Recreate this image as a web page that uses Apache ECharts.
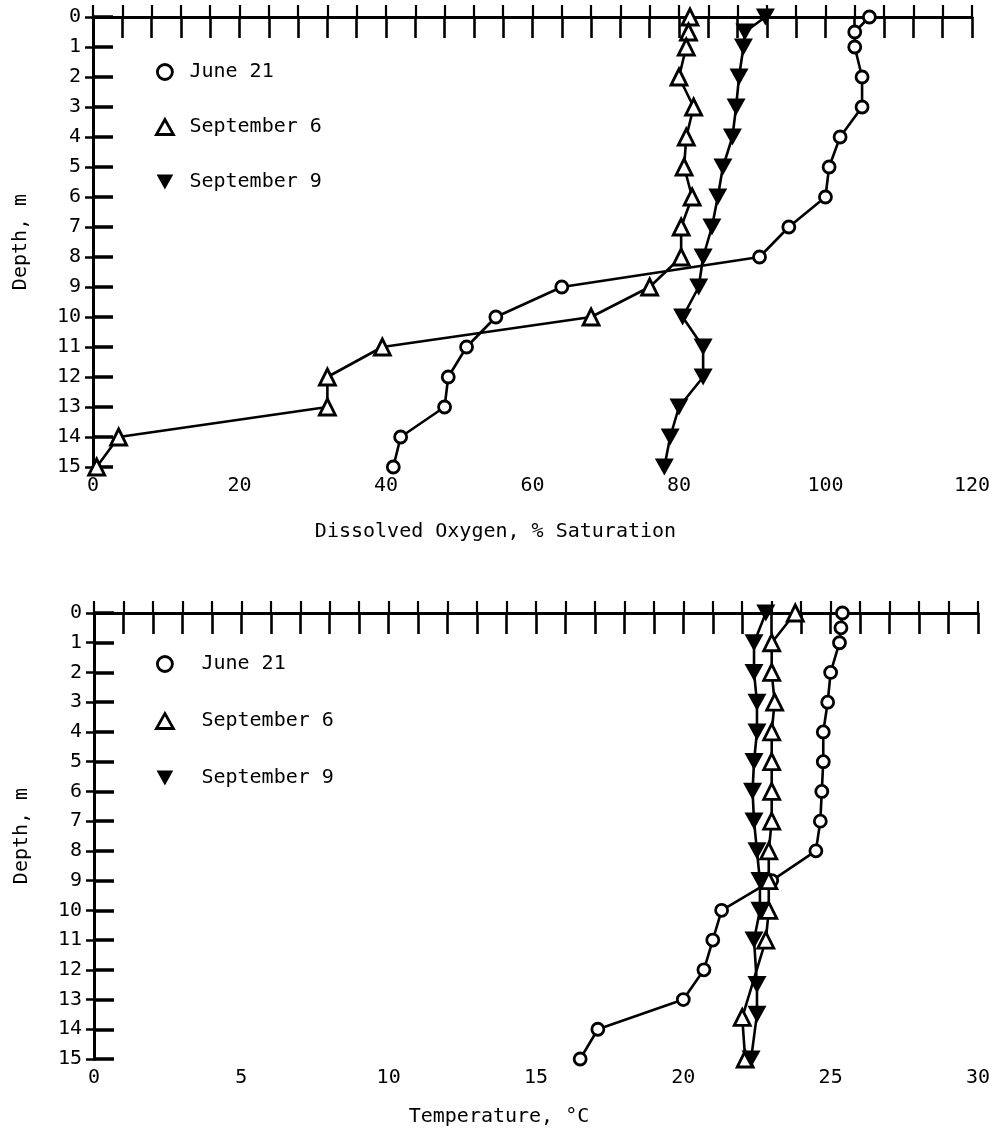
<!DOCTYPE html>
<html>
<head>
<meta charset="utf-8">
<script src="https://cdn.jsdelivr.net/npm/echarts@6/dist/echarts.min.js"></script>
<style>
  html, body { margin: 0; padding: 0; background: #fff; }
  #chart { width: 993px; height: 1132px; }
</style>
</head>
<body>
<div id="chart"></div>
<script>
// Depth profiles: dissolved oxygen (% saturation) and temperature (°C) vs depth (m)
const seriesNames = ['June 21', 'September 6', 'September 9'];

// Dissolved oxygen, % saturation
const doJuneDepth = [0, 0.5, 1, 2, 3, 4, 5, 6, 7, 8, 9, 10, 11, 12, 13, 14, 15];
const doJuneValue = [106, 104, 104, 105, 105, 102, 100.5, 100, 95, 91, 64, 55, 51, 48.5, 48, 42, 41];
const doSep6Depth = [0, 0.5, 1, 2, 3, 4, 5, 6, 7, 8, 9, 10, 11, 12, 13, 14, 15];
const doSep6Value = [81.5, 81.3, 81, 80, 82, 81, 80.7, 81.8, 80.3, 80.3, 76, 68, 39.5, 32, 32, 3.5, 0.5];
const doSep9Depth = [0, 0.5, 1, 2, 3, 4, 5, 6, 7, 8, 9, 10, 11, 12, 13, 14, 15];
const doSep9Value = [91.8, 89, 88.8, 88.2, 87.8, 87.3, 86, 85.3, 84.5, 83.3, 82.7, 80.5, 83.3, 83.3, 80, 78.8, 78];

// Temperature, °C
const tJuneDepth = [0, 0.5, 1, 2, 3, 4, 5, 6, 7, 8, 9, 10, 11, 12, 13, 14, 15];
const tJuneValue = [25.4, 25.35, 25.3, 25.0, 24.9, 24.75, 24.75, 24.7, 24.65, 24.5, 23.0, 21.3, 21.0, 20.7, 20.0, 17.1, 16.5];
const tSep6Depth = [0, 1, 2, 3, 4, 5, 6, 7, 8, 9, 10, 11, 13.6, 15];
const tSep6Value = [23.8, 23.0, 23.0, 23.1, 23.0, 23.0, 23.0, 23.0, 22.9, 22.9, 22.9, 22.8, 22.0, 22.1];
const tSep9Depth = [0, 1, 2, 3, 4, 5, 6, 7, 8, 9, 10, 11, 12.5, 13.5, 15];
const tSep9Value = [22.8, 22.4, 22.4, 22.5, 22.5, 22.4, 22.35, 22.4, 22.5, 22.6, 22.6, 22.4, 22.5, 22.5, 22.3];

const FONT = 'DejaVu Sans Mono';
const INV_TRI = 'path://M0,0L10,0L5,9Z';

const markerStyles = [
  { symbol: 'circle', symbolSize: 12, itemStyle: { color: '#fff', borderColor: '#000', borderWidth: 2.8 } },
  { symbol: 'triangle', symbolSize: 16, itemStyle: { color: '#fff', borderColor: '#000', borderWidth: 2.8 } },
  { symbol: INV_TRI, symbolSize: 19, itemStyle: { color: '#000', borderColor: '#000', borderWidth: 0 } }
];

function pairs(values, depths) {
  return depths.map((d, i) => [values[i], d]);
}

function makeSeries(name, idx, gridIdx, values, depths) {
  const m = markerStyles[idx];
  return {
    name: name,
    type: 'line',
    xAxisIndex: gridIdx * 2,
    yAxisIndex: gridIdx * 2,
    data: pairs(values, depths),
    symbol: m.symbol,
    symbolSize: m.symbolSize,
    symbolKeepAspect: true,
    showAllSymbol: true,
    clip: false,
    itemStyle: m.itemStyle,
    lineStyle: { color: '#000', width: 2.6 },
    emphasis: { disabled: true },
    z: 3 + idx
  };
}

function legendFor(top, textPad, gap) {
  return {
    orient: 'vertical',
    left: 150,
    top: top,
    itemWidth: 17,
    itemHeight: 15,
    itemGap: gap,
    selectedMode: false,
    textStyle: { fontFamily: FONT, fontSize: 20, color: '#000', padding: [0, 0, 0, textPad] },
    data: seriesNames.map((n, i) => ({
      name: n,
      icon: markerStyles[i].symbol,
      itemStyle: markerStyles[i].itemStyle
    }))
  };
}

function xAxes(gridIdx, max, interval, name, nameGap) {
  const line = { show: true, lineStyle: { color: '#000', width: 3 } };
  return [
    {
      type: 'value', gridIndex: gridIdx, position: 'bottom',
      min: 0, max: max, interval: interval,
      name: name, nameLocation: 'middle', nameGap: nameGap,
      nameTextStyle: { fontFamily: FONT, fontSize: 20, color: '#000', padding: [0, 74, 0, 0] },
      axisLine: line,
      axisTick: { show: true, inside: true, length: 12, lineStyle: { color: '#000', width: 2.2 } },
      minorTick: { show: true, splitNumber: 5, length: 12, lineStyle: { color: '#000', width: 2.2 } },
      axisLabel: { fontFamily: FONT, fontSize: 20, color: '#000', margin: 9 },
      splitLine: { show: false }
    },
    {
      type: 'value', gridIndex: gridIdx, position: 'top',
      min: 0, max: max, interval: interval,
      axisLine: line,
      axisTick: { show: true, inside: true, length: 21, lineStyle: { color: '#000', width: 2.6 } },
      minorTick: { show: true, splitNumber: 5, length: 21, lineStyle: { color: '#000', width: 2.6 } },
      axisLabel: { show: false },
      splitLine: { show: false }
    }
  ];
}

function yAxes(gridIdx) {
  const line = { show: true, lineStyle: { color: '#000', width: 3 } };
  return [
    {
      type: 'value', gridIndex: gridIdx, position: 'left', inverse: true,
      min: 0, max: 15, interval: 1,
      name: 'Depth, m', nameLocation: 'middle', nameGap: 62, nameRotate: 90,
      nameTextStyle: { fontFamily: FONT, fontSize: 20, color: '#000' },
      axisLine: line,
      axisTick: { show: true, inside: true, length: 20, lineStyle: { color: '#000', width: 3.5 } },
      axisLabel: { fontFamily: FONT, fontSize: 20, color: '#000', margin: 12 },
      splitLine: { show: false }
    },
    {
      type: 'value', gridIndex: gridIdx, position: 'right', inverse: true,
      min: 0, max: 15, interval: 1,
      axisLine: line,
      axisTick: { show: true, inside: true, length: 8, lineStyle: { color: '#000', width: 2.5 } },
      axisLabel: { show: false },
      splitLine: { show: false }
    }
  ];
}

const chart = echarts.init(document.getElementById('chart'), null, { renderer: 'canvas' });

chart.setOption({
  backgroundColor: '#fff',
  animation: false,
  grid: [
    { left: 93, top: 17, width: 885, height: 450 },
    { left: 94, top: 613, width: 885, height: 446 }
  ],
  legend: [legendFor(57, 11, 35), legendFor(649, 23, 37)],
  xAxis: [
    ...xAxes(0, 120, 20, 'Dissolved Oxygen, % Saturation', 55),
    ...xAxes(1, 30, 5, 'Temperature, °C', 48)
  ],
  yAxis: [...yAxes(0), ...yAxes(1)],
  series: [
    makeSeries(seriesNames[0], 0, 0, doJuneValue, doJuneDepth),
    makeSeries(seriesNames[1], 1, 0, doSep6Value, doSep6Depth),
    makeSeries(seriesNames[2], 2, 0, doSep9Value, doSep9Depth),
    makeSeries(seriesNames[0], 0, 1, tJuneValue, tJuneDepth),
    makeSeries(seriesNames[1], 1, 1, tSep6Value, tSep6Depth),
    makeSeries(seriesNames[2], 2, 1, tSep9Value, tSep9Depth)
  ]
});
</script>
</body>
</html>
